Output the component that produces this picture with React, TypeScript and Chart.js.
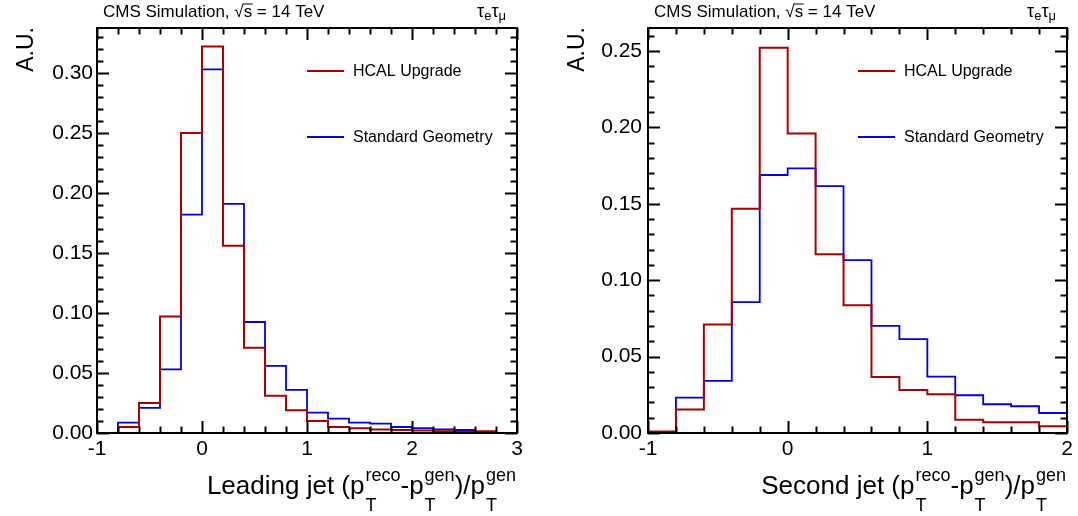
import React, { useEffect, useRef } from "react";
import { Chart, registerables } from "chart.js";

Chart.register(...registerables);

const FONT = '"Liberation Sans", Arial, Helvetica, sans-serif';

// ---- Leading jet panel ----
const leadingBinEdges = [-1, -0.8, -0.6, -0.4, -0.2, 0, 0.2, 0.4, 0.6, 0.8, 1, 1.2, 1.4, 1.6, 1.8, 2, 2.2, 2.4, 2.6, 2.8, 3];
const leadingHcal = [0, 0.005, 0.025, 0.097, 0.25, 0.322, 0.156, 0.071, 0.031, 0.019, 0.01, 0.005, 0.004, 0.003, 0.0025, 0.002, 0.0015, 0.001, 0.0015, 0];
const leadingStandard = [0, 0.0086, 0.021, 0.053, 0.182, 0.303, 0.191, 0.0925, 0.056, 0.036, 0.017, 0.012, 0.0086, 0.0078, 0.005, 0.004, 0.003, 0.0025, 0.001, 0];
const leadingXTicks = [-1, 0, 1, 2, 3];
const leadingYTicks = ["0.00", "0.05", "0.10", "0.15", "0.20", "0.25", "0.30"];
const leadingYMax = 0.3375;

// ---- Second jet panel ----
const secondBinEdges = [-1, -0.8, -0.6, -0.4, -0.2, 0, 0.2, 0.4, 0.6, 0.8, 1, 1.2, 1.4, 1.6, 1.8, 2];
const secondHcal = [0.001, 0.0153, 0.071, 0.1467, 0.252, 0.196, 0.117, 0.0836, 0.0367, 0.0282, 0.0253, 0.0087, 0.007, 0.007, 0.0044];
const secondStandard = [0, 0.0231, 0.0341, 0.0856, 0.1688, 0.1731, 0.1616, 0.1131, 0.0701, 0.0614, 0.0369, 0.0247, 0.0188, 0.0175, 0.0131];
const secondXTicks = [-1, 0, 1, 2];
const secondYTicks = ["0.00", "0.05", "0.10", "0.15", "0.20", "0.25"];
const secondYMax = 0.265;

// ---- shared text / style ----
const seriesLabels = ["HCAL Upgrade", "Standard Geometry"];
const seriesColors = ["#aa0000", "#0000e6"];
const yTitle = "A.U.";
const leadingXTitle = "Leading jet";
const secondXTitle = "Second jet";

type Seg = { t?: string; sub?: string; sup?: string };

function histPoints(edges: number[], values: number[]) {
  const pts = values.map((v, i) => ({ x: edges[i], y: v }));
  pts.push({ x: edges[edges.length - 1], y: values[values.length - 1] });
  return pts;
}

function decorPlugin(xTitleWord: string) {
  return {
    id: "decor",
    afterDraw(chart: any) {
      const { ctx, chartArea: a, scales } = chart;
      const xs = scales.x;
      const ys = scales.y;
      ctx.save();
      ctx.strokeStyle = "#000";
      ctx.lineWidth = 2;
      const seg = (x1: number, y1: number, x2: number, y2: number) => {
        ctx.beginPath();
        ctx.moveTo(x1, y1);
        ctx.lineTo(x2, y2);
        ctx.stroke();
      };
      // frame
      ctx.strokeRect(a.left, a.top, a.right - a.left, a.bottom - a.top);
      // x ticks (major every 1, minor every 0.2)
      const nx = Math.round((xs.max - xs.min) / 0.2);
      for (let i = 0; i <= nx; i++) {
        const v = xs.min + i * 0.2;
        const len = i % 5 === 0 ? 12 : 6.5;
        const px = Math.round(xs.getPixelForValue(v)) + 0.5;
        seg(px, a.bottom, px, a.bottom - len);
        seg(px, a.top, px, a.top + len);
      }
      // y ticks (major every 0.05, minor every 0.01)
      const ny = Math.floor(ys.max / 0.01 + 1e-6);
      for (let i = 0; i <= ny; i++) {
        const v = i * 0.01;
        const len = i % 5 === 0 ? 12 : 6.5;
        const py = Math.round(ys.getPixelForValue(v)) + 0.5;
        seg(a.left, py, a.left + len, py);
        seg(a.right, py, a.right - len, py);
      }

      ctx.fillStyle = "#000";
      // header
      ctx.font = `17px ${FONT}`;
      ctx.textAlign = "left";
      ctx.textBaseline = "alphabetic";
      let hx = a.left + 6;
      const hy = 17;
      const p1 = "CMS Simulation, ";
      ctx.fillText(p1, hx, hy);
      hx += ctx.measureText(p1).width;
      ctx.fillText("\u221A", hx, hy);
      const sqW = ctx.measureText("\u221A").width;
      const sW = ctx.measureText("s").width;
      ctx.lineWidth = 1;
      seg(hx + sqW - 1, hy - 13, hx + sqW + sW + 0.5, hy - 13);
      hx += sqW;
      ctx.fillText("s", hx, hy);
      hx += sW;
      ctx.fillText(" = 14 TeV", hx, hy);

      // channel tau_e tau_mu (right aligned)
      const big = `18px ${FONT}`;
      const small = `13px ${FONT}`;
      ctx.font = big;
      const tauW = ctx.measureText("\u03C4").width;
      ctx.font = small;
      const eW = ctx.measureText("e").width;
      const muW = ctx.measureText("\u03BC").width;
      let cx = a.right - 11 - (tauW * 2 + eW + muW);
      ctx.font = big;
      ctx.fillText("\u03C4", cx, hy);
      cx += tauW;
      ctx.font = small;
      ctx.fillText("e", cx, hy + 3);
      cx += eW;
      ctx.font = big;
      ctx.fillText("\u03C4", cx, hy);
      cx += tauW;
      ctx.font = small;
      ctx.fillText("\u03BC", cx, hy + 3);

      // legend
      const datasets = chart.data.datasets;
      const legY = [43, 109];
      datasets.forEach((ds: any, i: number) => {
        const ly = a.top + legY[i];
        ctx.strokeStyle = ds.borderColor;
        ctx.lineWidth = 2;
        seg(a.left + 210, ly, a.left + 247, ly);
        ctx.fillStyle = "#000";
        ctx.font = `16px ${FONT}`;
        ctx.textBaseline = "middle";
        ctx.fillText(ds.label, a.left + 256, ly + 1);
      });

      // y title
      ctx.save();
      ctx.translate(a.left - 64, a.top - 1);
      ctx.rotate(-Math.PI / 2);
      ctx.textAlign = "right";
      ctx.textBaseline = "alphabetic";
      ctx.font = `23px ${FONT}`;
      ctx.fillText(yTitle, 0, 0);
      ctx.restore();

      // x title with sub/superscripts, right aligned
      const segs: Seg[] = [
        { t: xTitleWord + " (p" },
        { sub: "T", sup: "reco" },
        { t: "-p" },
        { sub: "T", sup: "gen" },
        { t: ")/p" },
        { sub: "T", sup: "gen" },
      ];
      const mainF = `26px ${FONT}`;
      const scriptF = `18px ${FONT}`;
      const widths = segs.map((s) => {
        if (s.t) {
          ctx.font = mainF;
          return ctx.measureText(s.t).width;
        }
        ctx.font = scriptF;
        return Math.max(ctx.measureText(s.sub || "").width, ctx.measureText(s.sup || "").width) + 1;
      });
      const total = widths.reduce((p, c) => p + c, 0);
      let tx = a.right - 1 - total;
      const base = 494;
      ctx.textAlign = "left";
      ctx.textBaseline = "alphabetic";
      segs.forEach((s, i) => {
        if (s.t) {
          ctx.font = mainF;
          ctx.fillText(s.t, tx, base);
        } else {
          ctx.font = scriptF;
          ctx.fillText(s.sup || "", tx + 1, base - 13);
          ctx.fillText(s.sub || "", tx + 1, base + 17);
        }
        tx += widths[i];
      });
      ctx.restore();
    },
  };
}

type PanelSpec = {
  edges: number[];
  hcal: number[];
  standard: number[];
  xTicks: number[];
  yTicks: string[];
  yMax: number;
  yAxisWidth: number;
  yPad: number;
  padRight: number;
  xTitleWord: string;
};

function makeChart(canvas: HTMLCanvasElement, p: PanelSpec) {
  return new Chart(canvas, {
    type: "line",
    data: {
      datasets: [
        {
          label: seriesLabels[0],
          data: histPoints(p.edges, p.hcal),
          borderColor: seriesColors[0],
          borderWidth: 2,
          pointRadius: 0,
          fill: false,
          stepped: "before",
          tension: 0,
        },
        {
          label: seriesLabels[1],
          data: histPoints(p.edges, p.standard),
          borderColor: seriesColors[1],
          borderWidth: 1.8,
          pointRadius: 0,
          fill: false,
          stepped: "before",
          tension: 0,
        },
      ],
    },
    options: {
      animation: false,
      responsive: false,
      events: [],
      layout: { padding: { left: 0, right: p.padRight, top: 28, bottom: 0 } },
      plugins: { legend: { display: false }, tooltip: { enabled: false }, title: { display: false } },
      scales: {
        x: {
          type: "linear",
          min: p.edges[0],
          max: p.edges[p.edges.length - 1],
          grid: { display: false, drawTicks: false },
          border: { display: false },
          ticks: {
            color: "#000",
            padding: 4,
            maxRotation: 0,
            autoSkip: false,
            font: { family: FONT, size: 21 },
            callback: (v: any) => String(v),
          },
          afterBuildTicks: (s: any) => {
            s.ticks = p.xTicks.map((v) => ({ value: v }));
          },
          afterFit: (s: any) => {
            s.height = 83;
          },
        },
        y: {
          type: "linear",
          min: 0,
          max: p.yMax,
          grid: { display: false, drawTicks: false },
          border: { display: false },
          ticks: {
            color: "#000",
            padding: p.yPad,
            autoSkip: false,
            font: { family: FONT, size: 21 },
            callback: (v: any) => Number(v).toFixed(2),
          },
          afterBuildTicks: (s: any) => {
            s.ticks = p.yTicks.map((t) => ({ value: parseFloat(t) }));
          },
          afterFit: (s: any) => {
            s.width = p.yAxisWidth;
          },
        },
      },
    } as any,
    plugins: [decorPlugin(p.xTitleWord)],
  });
}

export default function App() {
  const leftRef = useRef<HTMLCanvasElement>(null);
  const rightRef = useRef<HTMLCanvasElement>(null);

  useEffect(() => {
    const c1 = makeChart(leftRef.current!, {
      edges: leadingBinEdges,
      hcal: leadingHcal,
      standard: leadingStandard,
      xTicks: leadingXTicks,
      yTicks: leadingYTicks,
      yMax: leadingYMax,
      yAxisWidth: 97,
      yPad: 4,
      padRight: 22,
      xTitleWord: leadingXTitle,
    });
    const c2 = makeChart(rightRef.current!, {
      edges: secondBinEdges,
      hcal: secondHcal,
      standard: secondStandard,
      xTicks: secondXTicks,
      yTicks: secondYTicks,
      yMax: secondYMax,
      yAxisWidth: 109,
      yPad: 6,
      padRight: 11,
      xTitleWord: secondXTitle,
    });
    return () => {
      c1.destroy();
      c2.destroy();
    };
  }, []);

  return (
    <div style={{ position: "absolute", left: 0, top: 0, width: 1078, height: 516, background: "#fff" }}>
      <canvas ref={leftRef} width={539} height={516} style={{ position: "absolute", left: 0, top: 0, width: 539, height: 516 }} />
      <canvas ref={rightRef} width={539} height={516} style={{ position: "absolute", left: 539, top: 0, width: 539, height: 516 }} />
    </div>
  );
}
